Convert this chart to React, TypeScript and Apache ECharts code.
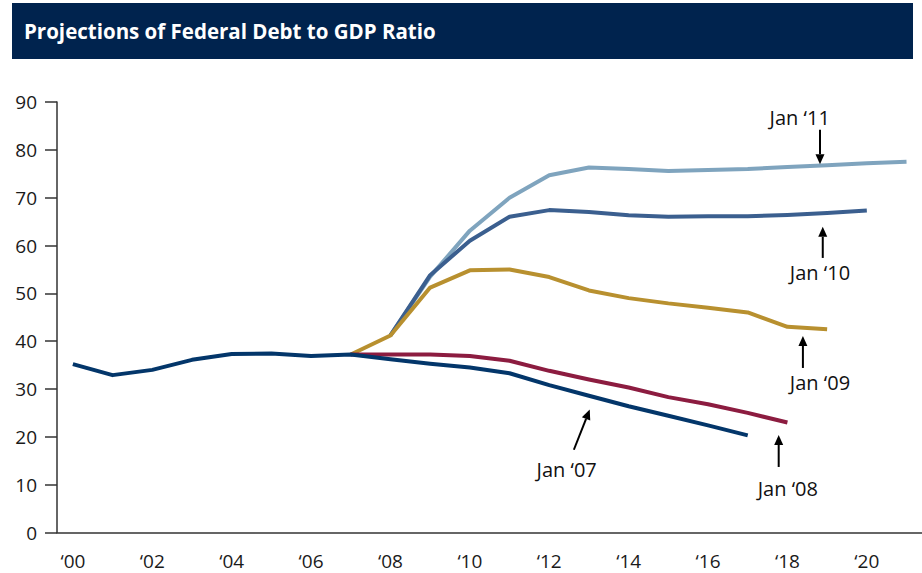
import React, { useEffect, useRef } from "react";
import * as echarts from "echarts";

const FONT = "'Open Sans', 'Noto Sans', sans-serif";

const titleText = "Projections of Federal Debt to GDP Ratio";

const xTickYears = [2000, 2002, 2004, 2006, 2008, 2010, 2012, 2014, 2016, 2018, 2020];

const jan07Start = 2000;
const jan07 = [35.2, 32.9, 34.0, 36.1, 37.3, 37.4, 36.9, 37.2, 36.2, 35.3, 34.5, 33.3, 30.8, 28.6, 26.4, 24.4, 22.4, 20.3];
const jan08Start = 2007;
const jan08 = [37.2, 37.2, 37.2, 36.9, 35.9, 33.8, 32.0, 30.3, 28.3, 26.8, 25.0, 23.0];
const jan09Start = 2007;
const jan09 = [37.2, 41.2, 51.2, 54.8, 55.0, 53.4, 50.6, 49.0, 47.9, 47.0, 46.0, 43.0, 42.5];
const jan10Start = 2008;
const jan10 = [41.2, 53.8, 61.0, 66.0, 67.4, 67.0, 66.3, 66.0, 66.1, 66.1, 66.4, 66.8, 67.3];
const jan11Start = 2008;
const jan11 = [41.2, 53.5, 63.1, 70.0, 74.7, 76.3, 76.0, 75.6, 75.8, 76.0, 76.4, 76.8, 77.2, 77.5];

const seriesNames = ["Jan ‘11", "Jan ‘10", "Jan ‘09", "Jan ‘08", "Jan ‘07"];
const seriesStarts = [jan11Start, jan10Start, jan09Start, jan08Start, jan07Start];
const seriesValues = [jan11, jan10, jan09, jan08, jan07];
const seriesColors = ["#7fa4be", "#3b5f8f", "#b8902f", "#8c1c40", "#03366a"];

// annotation anchors in data coordinates [year, value]
const annoLabels = ["Jan ‘11", "Jan ‘10", "Jan ‘09", "Jan ‘08", "Jan ‘07"];
const annoTextPos = [[2018.31, 86.7], [2018.82, 54.3], [2018.82, 31.3], [2018.01, 9.3], [2012.44, 13.1]];
const annoTail = [[2018.82, 84.2], [2018.89, 57.4], [2018.39, 34.4], [2017.78, 13.7], [2012.62, 17.3]];
const annoTip = [[2018.82, 77.0], [2018.89, 63.9], [2018.39, 41.1], [2017.78, 20.4], [2013.02, 25.7]];

export default function App() {
  const ref = useRef<HTMLDivElement>(null);
  useEffect(() => {
    const chart = echarts.init(ref.current!, null, { renderer: "svg" });
    const series = seriesValues.map((vals, i) => ({
      type: "line",
      name: seriesNames[i],
      data: vals.map((v, k) => [seriesStarts[i] + k, v]),
      showSymbol: false,
      symbol: "none",
      lineStyle: { color: seriesColors[i], width: 4, join: "round" },
      itemStyle: { color: seriesColors[i] },
      z: 2 + i,
    }));
    chart.setOption({
      animation: false,
      backgroundColor: "#ffffff",
      grid: { left: 57, right: 0, top: 102, bottom: 40.5 },
      xAxis: {
        type: "value",
        min: 1999.6,
        max: 2021.39,
        splitLine: { show: false },
        axisTick: { show: false },
        axisLine: { show: true, lineStyle: { color: "#333333", width: 1.5 } },
        axisLabel: {
          customValues: xTickYears,
          margin: 19,
          color: "#1a1a1a",
          fontSize: 19,
          fontFamily: FONT,
          formatter: (v: number) => "‘" + String(Math.round(v)).slice(2),
        },
      },
      yAxis: {
        type: "value",
        min: 0,
        max: 90,
        interval: 10,
        splitLine: { show: false },
        axisLine: { show: true, lineStyle: { color: "#333333", width: 1.5 } },
        axisTick: { show: true, length: 12, lineStyle: { color: "#333333", width: 1.5 } },
        axisLabel: { margin: 20, color: "#1a1a1a", fontSize: 19, fontFamily: FONT },
      },
      series,
    });

    const g: any[] = [
      { type: "rect", shape: { x: 12, y: 3, width: 901, height: 56 }, style: { fill: "#00234e" }, z: 10 },
      {
        type: "text",
        x: 24,
        y: 31,
        style: { text: titleText, fill: "#ffffff", fontSize: 20.5, fontWeight: "bold", fontFamily: FONT, textVerticalAlign: "middle", textAlign: "left" },
        z: 11,
      },
    ];
    annoLabels.forEach((lab, i) => {
      const tp = chart.convertToPixel({ gridIndex: 0 }, annoTextPos[i]) as number[];
      const tail = chart.convertToPixel({ gridIndex: 0 }, annoTail[i]) as number[];
      const tip = chart.convertToPixel({ gridIndex: 0 }, annoTip[i]) as number[];
      const dx = tip[0] - tail[0];
      const dy = tip[1] - tail[1];
      const len = Math.sqrt(dx * dx + dy * dy);
      const ux = dx / len;
      const uy = dy / len;
      const headLen = 10;
      const headHalf = 4.5;
      const bx = tip[0] - ux * headLen;
      const by = tip[1] - uy * headLen;
      const nx = -uy;
      const ny = ux;
      g.push({
        type: "line",
        shape: { x1: tail[0], y1: tail[1], x2: bx, y2: by },
        style: { stroke: "#000000", lineWidth: 2 },
        z: 20,
      });
      g.push({
        type: "polygon",
        shape: { points: [[tip[0], tip[1]], [bx + nx * headHalf, by + ny * headHalf], [bx - nx * headHalf, by - ny * headHalf]] },
        style: { fill: "#000000" },
        z: 20,
      });
      g.push({
        type: "text",
        x: tp[0],
        y: tp[1],
        style: { text: lab, fill: "#111111", fontSize: 20, fontFamily: FONT, textAlign: "center", textVerticalAlign: "middle" },
        z: 20,
      });
    });
    chart.setOption({ graphic: g });
    return () => chart.dispose();
  }, []);
  return <div ref={ref} style={{ position: "fixed", left: 0, top: 0, width: 922, height: 573 }} />;
}
